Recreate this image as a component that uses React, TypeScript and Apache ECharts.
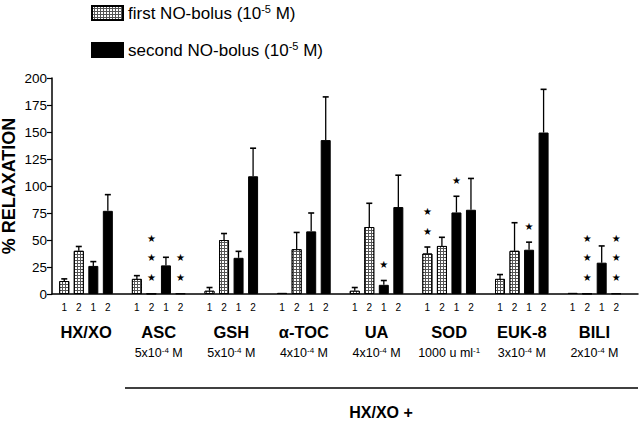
import React, { useEffect, useRef } from "react";
import * as echarts from "echarts";

const FONT = "'Liberation Sans', Arial, Helvetica, sans-serif";

// Groups and their concentrations
const groups = ["HX/XO", "ASC", "GSH", "α-TOC", "UA", "SOD", "EUK-8", "BILI"];
const concBase = ["", "5x10", "5x10", "4x10", "4x10", "1000 u ml", "3x10", "2x10"];
const concExp = ["", "-4", "-4", "-4", "-4", "-1", "-4", "-4"];
const concUnit = ["", " M", " M", " M", " M", "", " M", " M"];

// Bar labels within each group (last slot is the gap between groups)
const slotLabels = ["1", "2", "1", "2", ""];

// % relaxation values (means)
const firstBolus1 = [12, 14, 3, 1, 3, 37.5, 14, 1];
const firstBolus2 = [40, 0.5, 50, 41.5, 62, 44.5, 40, 0.5];
const secondBolus1 = [26, 26.5, 33.5, 58, 8.5, 75.5, 41, 29];
const secondBolus2 = [77, 0.5, 109, 142.5, 80.5, 78, 149.5, 0.5];

// error bars (upper)
const firstBolus1Err = [2, 3, 3, 0, 3, 6, 4, 0];
const firstBolus2Err = [4, 0, 6, 15.5, 22, 8, 26, 0];
const secondBolus1Err = [4, 7.5, 6, 17, 4, 15, 7, 15.5];
const secondBolus2Err = [15, 0, 26, 40, 29.5, 29, 40, 0];

// significance stars
const firstBolus1Stars = [0, 0, 0, 0, 0, 2, 0, 0];
const firstBolus2Stars = [0, 3, 0, 0, 0, 0, 0, 3];
const secondBolus1Stars = [0, 0, 0, 0, 1, 1, 1, 0];
const secondBolus2Stars = [0, 2, 0, 0, 0, 0, 0, 3];

// y axis
const yMin = 0;
const yMax = 200;
const yStep = 25;

const seriesNames = ["first NO-bolus", "second NO-bolus"];

export default function App() {
  const ref = useRef<HTMLDivElement>(null);

  useEffect(() => {
    if (!ref.current) return;
    const chart = echarts.init(ref.current, null, { renderer: "svg" });

    const slotIds: string[] = [];
    const firstData: any[] = [];
    const secondData: any[] = [];
    const errData: number[][] = [];
    const starData: number[][] = [];
    const vals = [firstBolus1, firstBolus2, secondBolus1, secondBolus2];
    const errs = [firstBolus1Err, firstBolus2Err, secondBolus1Err, secondBolus2Err];
    const stars = [firstBolus1Stars, firstBolus2Stars, secondBolus1Stars, secondBolus2Stars];

    groups.forEach((_, g) => {
      for (let s = 0; s < 5; s++) {
        const idx = slotIds.length;
        slotIds.push(`${g}-${s}`);
        if (s < 4) {
          const v = vals[s][g];
          const e = errs[s][g];
          const st = stars[s][g];
          if (s < 2) {
            firstData.push(v);
            secondData.push("-");
          } else {
            firstData.push("-");
            secondData.push(v);
          }
          if (e > 0) errData.push([idx, v, e]);
          if (st > 0) starData.push([idx, v + e, st]);
        } else {
          firstData.push("-");
          secondData.push("-");
        }
      }
    });

    const groupLabel = (name: string) => {
      const g = groups.indexOf(name);
      if (g < 0) return name;
      if (!concBase[g]) return `{name|${name}}`;
      return `{name|${name}}\n{gap| }\n{c|${concBase[g]}}{sup|${concExp[g]}}{c|${concUnit[g]}}`;
    };

    const hatchStyle = {
      color: "#555",
      borderColor: "#000",
      borderWidth: 1,
      decal: {
        symbol: "rect",
        symbolSize: 1,
        color: "#fff",
        dashArrayX: [2, 1],
        dashArrayY: [2, 1],
        rotation: 0,
      },
    };

    const option: any = {
      animation: false,
      backgroundColor: "#fff",
      textStyle: { fontFamily: FONT, color: "#000" },
      legend: {
        data: seriesNames,
        orient: "vertical",
        left: 91,
        top: 3,
        padding: 0,
        itemWidth: 31,
        itemHeight: 14,
        itemGap: 17,
        icon: "rect",
        selectedMode: false,
        formatter: (name: string) => `${name} (10{sup|-5} M)`,
        textStyle: {
          fontFamily: FONT,
          fontSize: 17,
          color: "#000",
          lineHeight: 20,
          rich: {
            sup: { fontFamily: FONT, fontSize: 11, verticalAlign: "top", lineHeight: 11, color: "#000" },
          },
        },
      },
      grid: [
        { left: 52, right: 2, top: 78, height: 216, outerBoundsMode: "none", containLabel: false },
        { left: 57, right: 2, top: 78, height: 216, outerBoundsMode: "none", containLabel: false },
        { left: 49.735, right: 9.265, top: 78, height: 216, outerBoundsMode: "none", containLabel: false },
      ],
      xAxis: [
        {
          type: "value",
          gridIndex: 0,
          min: 0,
          max: 1,
          axisLine: { show: true, onZero: false, lineStyle: { color: "#000", width: 1.5 } },
          axisTick: { show: false },
          axisLabel: { show: false },
          splitLine: { show: false },
        },
        {
          type: "category",
          gridIndex: 1,
          data: slotIds,
          axisLine: { show: false },
          axisTick: { show: false },
          splitLine: { show: false },
          axisLabel: {
            interval: 0,
            margin: 8,
            fontSize: 10,
            color: "#000",
            fontFamily: FONT,
            formatter: (v: string) => slotLabels[parseInt(v.split("-")[1], 10)],
          },
        },
        {
          type: "category",
          gridIndex: 2,
          data: groups,
          axisLine: { show: false },
          axisTick: { show: false },
          splitLine: { show: false },
          axisLabel: {
            interval: 0,
            margin: 28,
            color: "#000",
            fontFamily: FONT,
            formatter: groupLabel,
            rich: {
              name: { fontFamily: FONT, fontSize: 16.5, fontWeight: "bold", lineHeight: 20, color: "#000" },
              gap: { fontSize: 4, lineHeight: 4 },
              c: { fontFamily: FONT, fontSize: 12.5, lineHeight: 14, color: "#000" },
              sup: { fontFamily: FONT, fontSize: 8, lineHeight: 8, verticalAlign: "top", color: "#000" },
            },
          },
        },
      ],
      yAxis: [
        {
          type: "value",
          gridIndex: 0,
          min: yMin,
          max: yMax,
          interval: yStep,
          axisLine: { show: true, lineStyle: { color: "#000", width: 1.5 } },
          axisTick: { show: true, length: 5, lineStyle: { color: "#000", width: 1.2 } },
          axisLabel: { fontSize: 13.5, margin: 5, color: "#000", fontFamily: FONT },
          splitLine: { show: false },
          name: "% RELAXATION",
          nameLocation: "middle",
          nameGap: 34,
          nameMoveOverlap: false,
          nameTextStyle: { fontFamily: FONT, fontSize: 18, fontWeight: "bold", color: "#000" },
        },
        { type: "value", gridIndex: 1, min: yMin, max: yMax, show: false },
        { type: "value", gridIndex: 2, min: yMin, max: yMax, show: false },
      ],
      series: [
        {
          name: seriesNames[0],
          type: "bar",
          xAxisIndex: 1,
          yAxisIndex: 1,
          barWidth: 10,
          barGap: "-100%",
          data: firstData,
          itemStyle: hatchStyle,
        },
        {
          name: seriesNames[1],
          type: "bar",
          xAxisIndex: 1,
          yAxisIndex: 1,
          barWidth: 10,
          barGap: "-100%",
          data: secondData,
          itemStyle: { color: "#000", borderColor: "#000", borderWidth: 1 },
        },
        {
          type: "custom",
          xAxisIndex: 1,
          yAxisIndex: 1,
          data: errData,
          z: 5,
          renderItem: (_params: any, api: any) => {
            const x = api.value(0);
            const v = api.value(1);
            const e = api.value(2);
            const p0 = api.coord([x, v]);
            const p1 = api.coord([x, v + e]);
            return {
              type: "group",
              children: [
                {
                  type: "line",
                  shape: { x1: p0[0], y1: p0[1], x2: p1[0], y2: p1[1] },
                  style: { stroke: "#000", lineWidth: 1.3 },
                },
                {
                  type: "line",
                  shape: { x1: p1[0] - 3, y1: p1[1], x2: p1[0] + 3, y2: p1[1] },
                  style: { stroke: "#000", lineWidth: 1.6 },
                },
              ],
            };
          },
        },
        {
          type: "custom",
          xAxisIndex: 1,
          yAxisIndex: 1,
          data: starData,
          z: 5,
          renderItem: (_params: any, api: any) => {
            const x = api.value(0);
            const top = api.value(1);
            const n = api.value(2);
            const p = api.coord([x, top]);
            const children: any[] = [];
            for (let k = 0; k < n; k++) {
              children.push({
                type: "text",
                x: p[0],
                y: p[1] - 16 - k * 19.5,
                style: {
                  text: "★",
                  fontSize: 10,
                  fontFamily: "DejaVu Sans",
                  fill: "#000",
                  align: "center",
                  verticalAlign: "middle",
                  textAlign: "center",
                  textVerticalAlign: "middle",
                },
              });
            }
            return { type: "group", children };
          },
        },
      ],
      graphic: [
        {
          type: "line",
          shape: { x1: 125, y1: 388, x2: 638, y2: 388 },
          style: { stroke: "#000", lineWidth: 1.5 },
        },
        {
          type: "text",
          x: 381,
          y: 412,
          style: {
            text: "HX/XO +",
            fontFamily: FONT,
            fontSize: 16,
            fontWeight: "bold",
            fill: "#000",
            textAlign: "center",
            textVerticalAlign: "middle",
          },
        },
      ],
    };

    chart.setOption(option);
    return () => chart.dispose();
  }, []);

  return (
    <div
      ref={ref}
      style={{ position: "absolute", left: 0, top: 0, width: 640, height: 421 }}
    />
  );
}
